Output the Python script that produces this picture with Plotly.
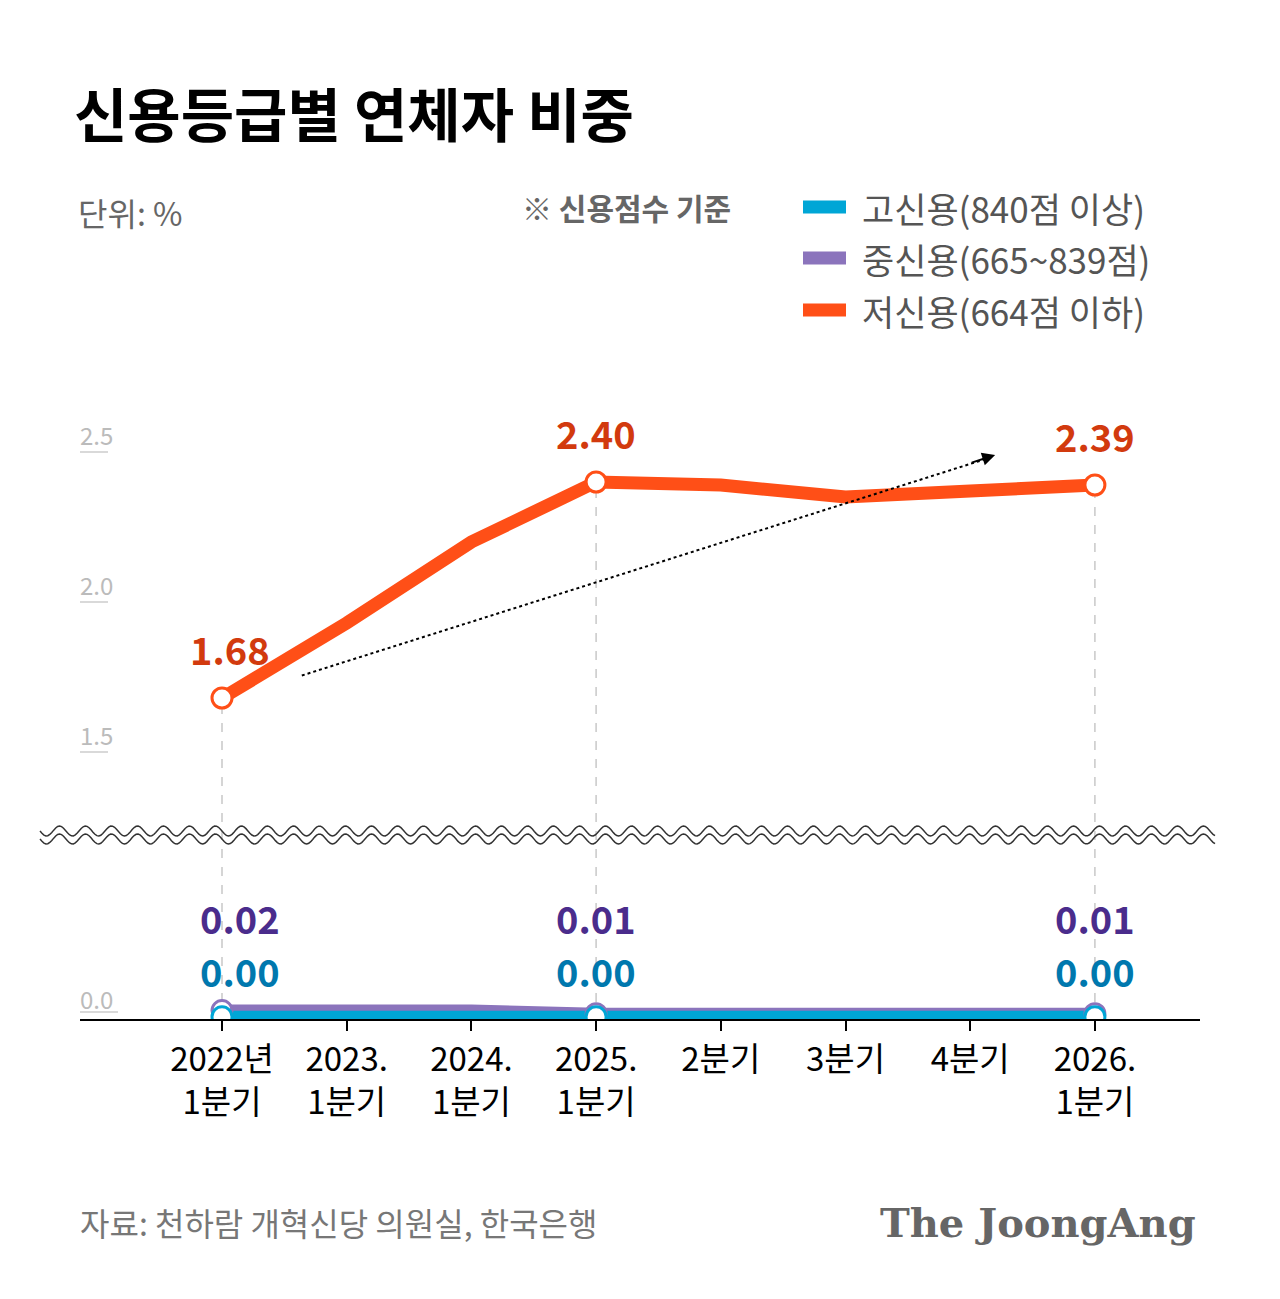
import numpy as np
import plotly.graph_objects as go

W, H = 1280, 1299
FONT = "Noto Sans CJK KR"
OFF = 8  # page margin offset in the browser

quarters = ["2022년<br>1분기", "2023.<br>1분기", "2024.<br>1분기", "2025.<br>1분기",
            "2분기", "3분기", "4분기", "2026.<br>1분기"]
low_credit = [1.68, 1.93, 2.20, 2.40, 2.39, 2.35, 2.37, 2.39]
mid_credit = [0.02, 0.02, 0.02, 0.01, 0.01, 0.01, 0.01, 0.01]
high_credit = [0.00, 0.00, 0.00, 0.00, 0.00, 0.00, 0.00, 0.00]
labeled_idx = [0, 3, 7]
low_labels = ["1.68", "2.40", "2.39"]
mid_labels = ["0.02", "0.01", "0.01"]
high_labels = ["0.00", "0.00", "0.00"]
upper_ticks = [2.5, 2.0, 1.5]

ORANGE, ORANGE_T = "#FF4F17", "#D23A0E"
PURPLE, PURPLE_T = "#8B74BC", "#4A2C8C"
BLUE, BLUE_T = "#00A6D6", "#0078AE"


def py(p):
    return 1 - (p - OFF) / H


def px(p):
    return (p - OFF) / W


x_idx = list(range(len(quarters)))
fig = go.Figure()

# upper panel: low credit
fig.add_scatter(x=x_idx, y=low_credit, mode="lines", line=dict(color=ORANGE, width=13),
                xaxis="x", yaxis="y", hoverinfo="skip")
fig.add_scatter(x=labeled_idx, y=[low_credit[i] for i in labeled_idx], mode="markers",
                marker=dict(size=20, color="white", line=dict(color=ORANGE, width=3)),
                xaxis="x", yaxis="y")
# dotted trend arrow
fig.add_scatter(x=[0.64, 6.15], y=[1.755, 2.48], mode="lines",
                line=dict(color="black", width=2, dash="dot"), xaxis="x", yaxis="y")
fig.add_annotation(x=6.2, y=2.49, ax=6.0, ay=2.463, xref="x", yref="y", axref="x", ayref="y",
                   showarrow=True, arrowhead=2, arrowsize=1.3, arrowwidth=2, arrowcolor="black", text="")

# lower panel
fig.add_scatter(x=x_idx, y=mid_credit, mode="lines", line=dict(color=PURPLE, width=12),
                xaxis="x2", yaxis="y2")
fig.add_scatter(x=x_idx, y=high_credit, mode="lines", line=dict(color=BLUE, width=12),
                xaxis="x2", yaxis="y2")
fig.add_scatter(x=labeled_idx, y=[mid_credit[i] for i in labeled_idx], mode="markers",
                marker=dict(size=20, color="white", line=dict(color=PURPLE, width=3)),
                xaxis="x2", yaxis="y2")
fig.add_scatter(x=labeled_idx, y=[high_credit[i] for i in labeled_idx], mode="markers",
                marker=dict(size=20, color="white", line=dict(color=BLUE, width=3)),
                xaxis="x2", yaxis="y2")

x0p = 222 - OFF
xr = [-x0p / 124.7, (W - x0p) / 124.7]
up_dom = [py(840), py(400)]
up_rng = [2.5 + (452 - 840) / 300, 2.5 + (452 - 400) / 300]
lo_dom = [py(1020), py(860)]

fig.update_layout(
    width=W, height=H, margin=dict(l=0, r=0, t=0, b=0),
    paper_bgcolor="white", plot_bgcolor="rgba(0,0,0,0)", showlegend=False,
    font=dict(family=FONT),
    xaxis=dict(range=xr, visible=False, domain=[0, 1]),
    yaxis=dict(range=up_rng, domain=up_dom, visible=False),
    xaxis2=dict(range=xr, domain=[0, 1], anchor="y2", tickmode="array", tickvals=x_idx,
                ticktext=quarters, showgrid=False, zeroline=False, showline=False,
                ticks="outside", ticklen=10, tickcolor="black", tickwidth=2,
                tickfont=dict(size=33, color="black", family=FONT)),
    yaxis2=dict(range=[-0.01, 0.5], domain=lo_dom, visible=False),
)

shapes = []
shapes.append(dict(type="line", xref="paper", yref="paper", x0=px(80), x1=px(1200),
                   y0=py(1020), y1=py(1020), line=dict(color="black", width=2)))
for i in labeled_idx:
    shapes.append(dict(type="line", xref="x", yref="paper", x0=i, x1=i,
                       y0=py(1020), y1=py(452 - (low_credit[i] - 2.5) * 300),
                       line=dict(color="#c8c8c8", width=1.5, dash="dash"), layer="below"))
for v in upper_ticks:
    p = 452 - (v - 2.5) * 300
    shapes.append(dict(type="line", xref="paper", yref="paper", x0=px(80), x1=px(108),
                       y0=py(p), y1=py(p), line=dict(color="#cccccc", width=1.5)))
shapes.append(dict(type="line", xref="paper", yref="paper", x0=px(80), x1=px(118),
                   y0=py(1012), y1=py(1012), line=dict(color="#cccccc", width=1.5)))
xs = np.linspace(40, 1215, 600)
for off in (-4, 4):
    ys = 835 + off + 5 * np.sin(2 * np.pi * (xs - 40) / 26)
    path = "M " + " L ".join(f"{px(a):.5f},{py(b):.5f}" for a, b in zip(xs, ys))
    shapes.append(dict(type="path", xref="paper", yref="paper", path=path,
                       line=dict(color="#333333", width=1.5)))
for yy, c in [(207, BLUE), (258, PURPLE), (310, ORANGE)]:
    shapes.append(dict(type="line", xref="paper", yref="paper", x0=px(803), x1=px(846),
                       y0=py(yy), y1=py(yy), line=dict(color=c, width=13)))
fig.update_layout(shapes=shapes)


def text(x, y, s, size, color, anchor="left", bold=False, family=FONT):
    fig.add_annotation(x=px(x), y=py(y), xref="paper", yref="paper", text=f"<b>{s}</b>" if bold else s,
                       showarrow=False, xanchor=anchor, yanchor="middle",
                       font=dict(size=size, color=color, family=family))


text(72, 112, "신용등급별 연체자 비중", 58, "black", bold=True)
text(76, 212, "단위: %", 32, "#666666")
text(520, 207, "※ 신용점수 기준", 30, "#666666", bold=True)
text(860, 207, "고신용(840점 이상)", 35, "#555555")
text(860, 258, "중신용(665~839점)", 35, "#555555")
text(860, 310, "저신용(664점 이하)", 35, "#555555")
for v in upper_ticks:
    text(78, 452 - (v - 2.5) * 300 - 18, f"{v:.1f}", 24, "#bbbbbb")
text(78, 998, "0.0", 24, "#bbbbbb")

for k, i in enumerate(labeled_idx):
    xc = 222 + i * 124.7 + (8 if i == 0 else 0)
    yl = 452 - (low_credit[i] - 2.5) * 300 - 50
    text(xc, yl, low_labels[k], 38, ORANGE_T, anchor="center", bold=True)
    text(xc + 10 if i == 0 else xc, 917, mid_labels[k], 38, PURPLE_T, anchor="center", bold=True)
    text(xc + 10 if i == 0 else xc, 970, high_labels[k], 38, BLUE_T, anchor="center", bold=True)

text(78, 1222, "자료: 천하람 개혁신당 의원실, 한국은행", 32, "#777777")
text(1198, 1222, "The JoongAng", 40, "#666666", anchor="right", bold=True, family="DejaVu Serif")

fig.write_html("out.html")
